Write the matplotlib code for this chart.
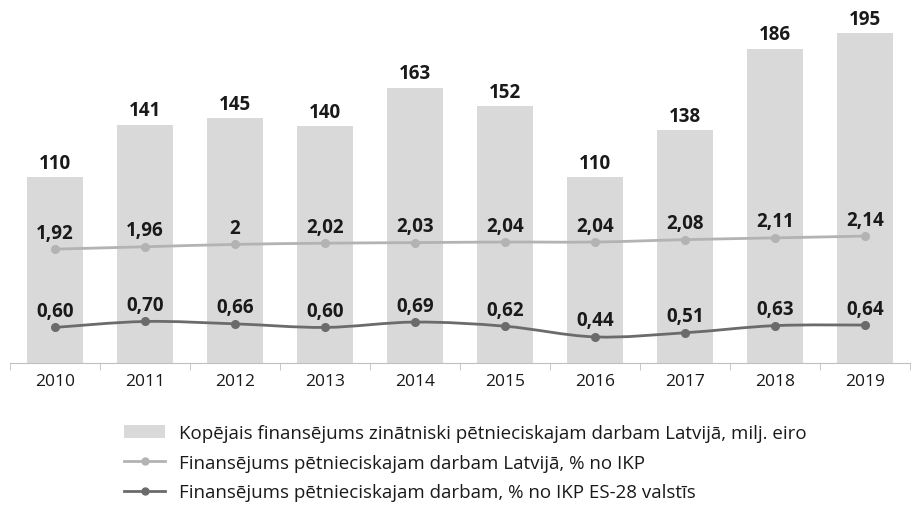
import numpy as np
import matplotlib.pyplot as plt
from matplotlib.path import Path
from matplotlib.patches import PathPatch, Patch
from matplotlib.lines import Line2D

plt.rcParams['font.family'] = ['Open Sans', 'DejaVu Sans']

years = ['2010', '2011', '2012', '2013', '2014', '2015', '2016', '2017', '2018', '2019']
total_funding = [110, 141, 145, 140, 163, 152, 110, 138, 186, 195]
lv_pct = [1.92, 1.96, 2, 2.02, 2.03, 2.04, 2.04, 2.08, 2.11, 2.14]
eu_pct = [0.60, 0.70, 0.66, 0.60, 0.69, 0.62, 0.44, 0.51, 0.63, 0.64]
lv_labels = ['1,92', '1,96', '2', '2,02', '2,03', '2,04', '2,04', '2,08', '2,11', '2,14']
eu_labels = ['0,60', '0,70', '0,66', '0,60', '0,69', '0,62', '0,44', '0,51', '0,63', '0,64']

legend_labels = [
    'Kopējais finansējums zinātniski pētnieciskajam darbam Latvijā, milj. eiro',
    'Finansējums pētnieciskajam darbam Latvijā, % no IKP',
    'Finansējums pētnieciskajam darbam, % no IKP ES-28 valstīs',
]

bar_col = '#d9d9d9'
light_col = '#b3b3b3'
dark_col = '#6b6b6b'


def smooth_path(xs, ys, t=0.17):
    # catmull-rom style bezier through the points
    xs = np.asarray(xs, float)
    ys = np.asarray(ys, float)
    verts = [(xs[0], ys[0])]
    codes = [Path.MOVETO]
    n = len(xs)
    for i in range(n - 1):
        p0 = (xs[i - 1], ys[i - 1]) if i > 0 else (xs[i], ys[i])
        p1 = (xs[i], ys[i])
        p2 = (xs[i + 1], ys[i + 1])
        p3 = (xs[i + 2], ys[i + 2]) if i + 2 < n else p2
        c1 = (p1[0] + (p2[0] - p0[0]) * t, p1[1] + (p2[1] - p0[1]) * t)
        c2 = (p2[0] - (p3[0] - p1[0]) * t, p2[1] - (p3[1] - p1[1]) * t)
        verts += [c1, c2, p2]
        codes += [Path.CURVE4] * 3
    return Path(verts, codes)


fig = plt.figure(figsize=(9.21, 5.10), dpi=100)
ax = fig.add_axes([0.0109, 0.2863, 0.9772, 0.6627])
x = np.arange(len(years))

ax.bar(x, total_funding, width=0.63, color=bar_col, zorder=1)
for xi, v in zip(x, total_funding):
    ax.text(xi, v + 2.5, str(v), ha='center', va='bottom', fontsize=13.5,
            fontweight='bold', color='#1a1a1a')

ax.set_xlim(-0.5, len(years) - 0.5)
ax.set_ylim(0, 200)
ax.set_yticks([])
for s in ['left', 'right', 'top']:
    ax.spines[s].set_visible(False)
ax.spines['bottom'].set_color('#bfbfbf')
ax.set_xticks(x)
ax.set_xticklabels(years, fontsize=12.5, color='#1a1a1a')
ax.tick_params(axis='x', which='major', length=0, pad=7)
ax.set_xticks(np.arange(-0.5, len(years), 1), minor=True)
ax.tick_params(axis='x', which='minor', length=5, color='#bfbfbf')

ax2 = ax.twinx()
ax2.set_ylim(0, 5.7)
ax2.axis('off')

for vals, labs, col in [(lv_pct, lv_labels, light_col), (eu_pct, eu_labels, dark_col)]:
    ax2.add_patch(PathPatch(smooth_path(x, vals), facecolor='none', edgecolor=col,
                            lw=2, zorder=3))
    ax2.plot(x, vals, 'o', color=col, ms=5.5, zorder=4)
    for xi, v, lab in zip(x, vals, labs):
        ax2.text(xi, v + 0.11, lab, ha='center', va='bottom', fontsize=13.5,
                 fontweight='bold', color='#1a1a1a')

handles = [
    Patch(facecolor=bar_col, edgecolor='none'),
    Line2D([], [], color=light_col, lw=2, marker='o', ms=5),
    Line2D([], [], color=dark_col, lw=2, marker='o', ms=5),
]
fig.legend(handles, legend_labels, loc='upper left', bbox_to_anchor=(0.127, 0.181),
           frameon=False, fontsize=13.5, handlelength=2.15, handletextpad=0.75,
           labelspacing=0.62, borderaxespad=0, labelcolor='#1a1a1a')

fig.savefig('out.png', dpi=100)
